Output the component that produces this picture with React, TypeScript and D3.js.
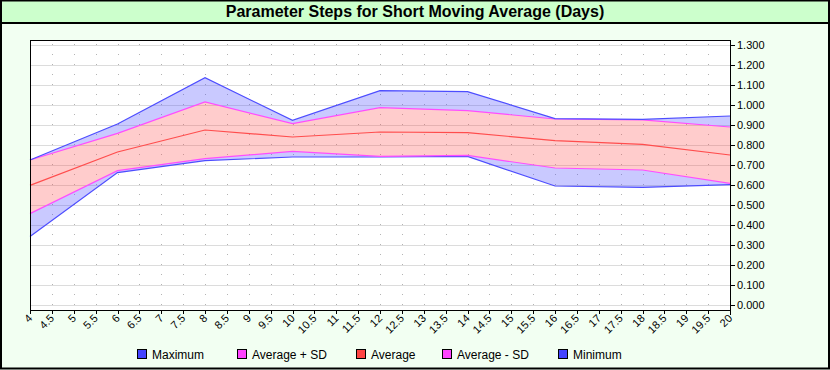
import { useEffect } from "react";
import * as d3 from "d3";

const days = [4, 6, 8, 10, 12, 14, 16, 18, 20];
const maximum = [0.725, 0.905, 1.137, 0.923, 1.072, 1.067, 0.932, 0.928, 0.945];
const avgPlusSd = [0.725, 0.858, 1.015, 0.907, 0.987, 0.972, 0.93, 0.926, 0.89];
const average = [0.598, 0.765, 0.875, 0.84, 0.865, 0.862, 0.822, 0.803, 0.75];
const avgMinusSd = [0.457, 0.672, 0.732, 0.768, 0.743, 0.748, 0.685, 0.675, 0.608];
const minimum = [0.342, 0.662, 0.722, 0.74, 0.74, 0.743, 0.595, 0.588, 0.602];

const xTicks = d3.range(4, 20.01, 0.5);
const yTicks = d3.range(0, 1.301, 0.1);

const legendItems = [
  { name: "Maximum", color: "#4444ff", x: 137 },
  { name: "Average + SD", color: "#ff44ff", x: 237 },
  { name: "Average", color: "#ff4444", x: 356 },
  { name: "Average - SD", color: "#ff44ff", x: 442 },
  { name: "Minimum", color: "#4444ff", x: 558 },
];

const W = 830;
const H = 370;
const plot = { left: 30, right: 730, top: 40, bottom: 310 };
const font = "Arial, 'Liberation Sans', sans-serif";

export default function App() {
  useEffect(() => {
    document.body.style.margin = "0";
  }, []);

  const x = d3.scaleLinear().domain([4, 20]).range([plot.left, plot.right]);
  const y = d3.scaleLinear().domain([-0.025, 1.325]).range([plot.bottom, plot.top]);

  const band = (hi: number[], lo: number[]) =>
    d3
      .area<number>()
      .x((d) => x(d))
      .y0((_, i) => y(lo[i]))
      .y1((_, i) => y(hi[i]))(days) || "";

  const line = (vals: number[]) =>
    d3
      .line<number>()
      .x((d) => x(d))
      .y((_, i) => y(vals[i]))(days) || "";

  return (
    <svg width={W} height={H} style={{ display: "block", fontFamily: font }}>
      <rect x={0} y={0} width={W} height={H} fill="#f2fff2" />
      <rect x={0} y={0} width={W} height={23} fill="#ccffcc" />
      <line x1={0} x2={W} y1={23} y2={23} stroke="#000" strokeWidth={2} />
      <text x={415} y={17} textAnchor="middle" fontSize={16} fontWeight="bold">
        Parameter Steps for Short Moving Average (Days)
      </text>

      <rect
        x={plot.left}
        y={plot.top}
        width={plot.right - plot.left}
        height={plot.bottom - plot.top}
        fill="#fff"
      />
      {yTicks.map((t) => (
        <line
          key={"h" + t}
          x1={plot.left}
          x2={plot.right}
          y1={Math.round(y(t)) + 0.5}
          y2={Math.round(y(t)) + 0.5}
          stroke="#dcdcdc"
        />
      ))}
      {xTicks.slice(1).map((t) => (
        <line
          key={"v" + t}
          x1={Math.round(x(t)) + 0.5}
          x2={Math.round(x(t)) + 0.5}
          y1={plot.top + 4}
          y2={plot.bottom}
          stroke="#b4b4b4"
          strokeDasharray="1,9"
        />
      ))}

      <path d={band(maximum, avgPlusSd)} fill="#4444ff" fillOpacity={0.29} />
      <path d={band(avgMinusSd, minimum)} fill="#4444ff" fillOpacity={0.29} />
      <path d={band(avgPlusSd, avgMinusSd)} fill="#ff4444" fillOpacity={0.27} />

      <path d={line(minimum)} fill="none" stroke="#4d4dff" strokeWidth={1.2} />
      <path d={line(avgMinusSd)} fill="none" stroke="#ff4dff" strokeWidth={1.2} />
      <path d={line(average)} fill="none" stroke="#ff4d4d" strokeWidth={1.2} />
      <path d={line(avgPlusSd)} fill="none" stroke="#ff4dff" strokeWidth={1.2} />
      <path d={line(maximum)} fill="none" stroke="#4d4dff" strokeWidth={1.2} />

      <line x1={plot.left + 0.5} x2={plot.left + 0.5} y1={plot.top} y2={plot.bottom} stroke="#000" />
      <line x1={plot.left} x2={plot.right} y1={plot.top + 0.5} y2={plot.top + 0.5} stroke="#000" />
      <line x1={plot.right + 0.5} x2={plot.right + 0.5} y1={plot.top} y2={plot.bottom + 5} stroke="#000" />
      <line x1={plot.left} x2={plot.right + 1} y1={plot.bottom + 0.5} y2={plot.bottom + 0.5} stroke="#000" />

      {yTicks.map((t) => (
        <g key={"yt" + t}>
          <line
            x1={plot.right}
            x2={plot.right + 5}
            y1={Math.round(y(t)) + 0.5}
            y2={Math.round(y(t)) + 0.5}
            stroke="#000"
          />
          <text x={plot.right + 7} y={y(t) + 4} fontSize={11}>
            {d3.format(".3f")(t)}
          </text>
        </g>
      ))}

      {xTicks.map((t) => (
        <g key={"xt" + t}>
          <line
            x1={Math.round(x(t)) + 0.5}
            x2={Math.round(x(t)) + 0.5}
            y1={plot.bottom}
            y2={plot.bottom + 4}
            stroke="#000"
          />
          <text
            transform={`translate(${x(t) + 3},${plot.bottom + 9}) rotate(-45)`}
            textAnchor="end"
            fontSize={11}
          >
            {String(t)}
          </text>
        </g>
      ))}

      {legendItems.map((d) => (
        <g key={d.name}>
          <rect x={d.x + 0.5} y={349.5} width={9} height={9} fill={d.color} stroke="#000" />
          <text x={d.x + 15} y={359} fontSize={12}>
            {d.name}
          </text>
        </g>
      ))}

      <rect x={1} y={0.5} width={W - 2} height={H - 2} fill="none" stroke="#000" strokeWidth={2} />
    </svg>
  );
}
